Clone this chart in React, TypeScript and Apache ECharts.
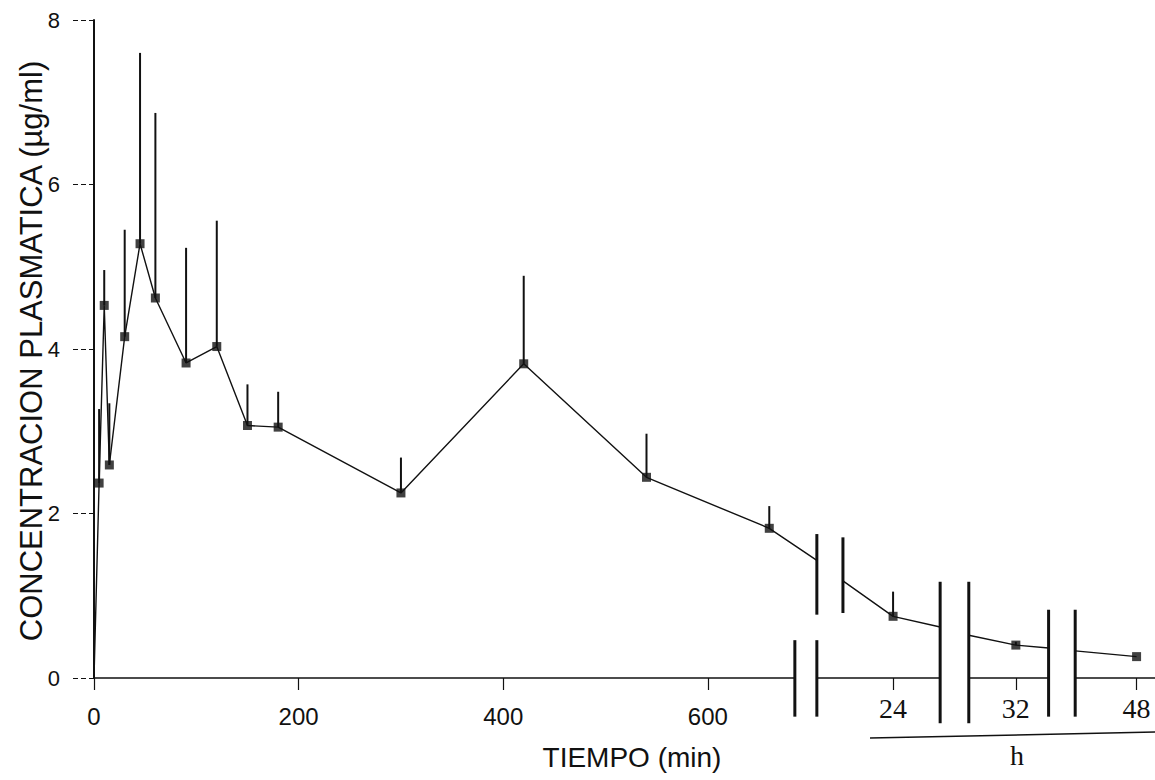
import React, { useEffect, useRef } from "react";
import * as echarts from "echarts";

// ---- data ----
const minuteTimes = [0, 5, 10, 15, 30, 45, 60, 90, 120, 150, 180, 300, 420, 540, 660];
const minuteMeans = [0, 2.37, 4.53, 2.59, 4.15, 5.28, 4.62, 3.83, 4.03, 3.07, 3.05, 2.25, 3.82, 2.44, 1.82];
const minuteSD = [0, 0.9, 0.43, 0.75, 1.3, 2.32, 2.25, 1.4, 1.53, 0.5, 0.43, 0.43, 1.07, 0.53, 0.27];

const hourLabels = ["24", "32", "48"];
const hourAxisPos = [781, 901, 1019]; // position of each hour on the broken axis
const hourMeans = [0.75, 0.4, 0.26];
const hourSD = [0.3, 0.04, 0];

const minuteTickLabels = [0, 200, 400, 600];

// axis breaks (axis units) and where the curve meets them
const breakLeftPos = [706.5, 827, 933];
const breakRightPos = [732, 855, 959];
const lineIntoBreak = [1.43, 0.62, 0.365];
const lineOutOfBreak = [1.18, 0.52, 0.33];
const axisBreakPos = [685, 706.5];

const SANS = '"Liberation Sans", Arial, Helvetica, sans-serif';
const SERIF = '"Liberation Serif", "Times New Roman", serif';

export default function App() {
  const ref = useRef<HTMLDivElement>(null);

  useEffect(() => {
    const chart = echarts.init(ref.current as HTMLDivElement, null, { renderer: "svg" });

    // line segments separated by the breaks
    const segments: number[][][] = [];
    let cur: number[][] = minuteTimes.map((t, i) => [t, minuteMeans[i]]);
    for (let i = 0; i < hourAxisPos.length; i++) {
      cur.push([breakLeftPos[i], lineIntoBreak[i]]);
      segments.push(cur);
      cur = [[breakRightPos[i], lineOutOfBreak[i]], [hourAxisPos[i], hourMeans[i]]];
    }
    segments.push(cur);

    const points = [
      ...minuteTimes.map((t, i) => [t, minuteMeans[i]]).filter((p) => p[1] > 0),
      ...hourAxisPos.map((p, i) => [p, hourMeans[i]]),
    ];
    const errData = [
      ...minuteTimes.map((t, i) => [t, minuteMeans[i], minuteSD[i]]),
      ...hourAxisPos.map((p, i) => [p, hourMeans[i], hourSD[i]]),
    ];

    const allTicks = [...minuteTickLabels, ...hourAxisPos];

    const option: any = {
      animation: false,
      backgroundColor: "#ffffff",
      grid: { left: 94, top: 20, right: 0, bottom: 102, containLabel: false },
      xAxis: {
        type: "value",
        min: 0,
        max: 1037,
        splitLine: { show: false },
        axisLine: { show: true, onZero: false, lineStyle: { color: "#111", width: 1.5 } },
        axisTick: {
          show: true,
          length: 12,
          customValues: allTicks,
          lineStyle: { color: "#111", width: 1.2 },
        },
        axisLabel: {
          customValues: minuteTickLabels,
          margin: 26,
          color: "#111",
          fontFamily: SANS,
          fontSize: 24,
          showMinLabel: true,
          showMaxLabel: true,
        },
      },
      yAxis: {
        type: "value",
        min: 0,
        max: 8,
        interval: 2,
        splitLine: { show: false },
        axisLine: { show: true, lineStyle: { color: "#111", width: 2 } },
        axisTick: { show: true, length: 22, lineStyle: { color: "#111", width: 1.2, type: [5, 3] } },
        axisLabel: { margin: 34, color: "#111", fontFamily: SANS, fontSize: 22 },
      },
      series: [
        ...segments.map((seg) => ({
          type: "line",
          data: seg,
          symbol: "none",
          lineStyle: { color: "#111", width: 1.4 },
          z: 2,
        })),
        {
          type: "custom",
          data: errData,
          encode: { x: 0, y: 1 },
          z: 3,
          renderItem: (params: any, api: any) => {
            const x = api.value(0);
            const m = api.value(1);
            const s = api.value(2);
            if (!(s > 0)) return null;
            const p0 = api.coord([x, m]);
            const p1 = api.coord([x, m + s]);
            return {
              type: "line",
              shape: { x1: p0[0], y1: p0[1], x2: p1[0], y2: p1[1] },
              style: { stroke: "#111", lineWidth: 2 },
            };
          },
        },
        {
          type: "scatter",
          data: points,
          symbol: "rect",
          symbolSize: 9,
          itemStyle: { color: "#111" },
          z: 4,
        },
      ],
    };

    chart.setOption(option);

    const px = (u: number, v: number) => chart.convertToPixel({ gridIndex: 0 }, [u, v]) as number[];
    const graphics: any[] = [];

    const y0 = px(0, 0)[1];
    // gaps in the x axis line
    const gaps = [[axisBreakPos[0], axisBreakPos[1]], [breakLeftPos[1], breakRightPos[1]], [breakLeftPos[2], breakRightPos[2]]];
    gaps.forEach(([a, b]) => {
      const xa = px(a, 0)[0];
      const xb = px(b, 0)[0];
      graphics.push({ type: "rect", shape: { x: xa, y: y0 - 3, width: xb - xa, height: 6 }, style: { fill: "#fff" }, z: 50 });
    });

    const bar = (u: number, v1: number, v2: number) => {
      const a = px(u, v1);
      const b = px(u, v2);
      graphics.push({
        type: "line",
        shape: { x1: a[0], y1: a[1], x2: b[0], y2: b[1] },
        style: { stroke: "#111", lineWidth: 3 },
        z: 60,
      });
    };
    // axis break marks
    bar(axisBreakPos[0], -0.47, 0.46);
    bar(axisBreakPos[1], -0.47, 0.46);
    // curve break marks
    bar(breakLeftPos[0], 0.77, 1.75);
    bar(breakRightPos[0], 0.79, 1.71);
    bar(breakLeftPos[1], -0.55, 1.17);
    bar(breakRightPos[1], -0.55, 1.17);
    bar(breakLeftPos[2], -0.47, 0.83);
    bar(breakRightPos[2], -0.47, 0.83);

    // hour tick labels
    hourAxisPos.forEach((p, i) => {
      const q = px(p, 0);
      graphics.push({
        type: "text",
        x: q[0],
        y: q[1] + 30,
        style: {
          text: hourLabels[i],
          font: `28px ${SERIF}`,
          fill: "#111",
          align: "center",
          verticalAlign: "middle",
          textAlign: "center",
          textVerticalAlign: "middle",
        },
        z: 60,
      });
    });

    // "h" underline and label
    graphics.push({
      type: "line",
      shape: { x1: 870, y1: 738, x2: 1155, y2: 732 },
      style: { stroke: "#111", lineWidth: 1.5 },
    });
    graphics.push({
      type: "text",
      x: 1017,
      y: 755,
      style: {
        text: "h",
        font: `28px ${SERIF}`,
        fill: "#111",
        align: "center",
        verticalAlign: "middle",
        textAlign: "center",
        textVerticalAlign: "middle",
      },
    });

    // axis titles
    graphics.push({
      type: "text",
      x: 632,
      y: 757,
      style: {
        text: "TIEMPO (min)",
        font: `28px ${SANS}`,
        fill: "#111",
        align: "center",
        verticalAlign: "middle",
        textAlign: "center",
        textVerticalAlign: "middle",
      },
    });
    graphics.push({
      type: "text",
      x: 31,
      y: 351,
      rotation: Math.PI / 2,
      style: {
        text: "CONCENTRACION PLASMATICA (µg/ml)",
        font: `31px ${SANS}`,
        fill: "#111",
        align: "center",
        verticalAlign: "middle",
        textAlign: "center",
        textVerticalAlign: "middle",
      },
    });

    chart.setOption({ graphic: graphics });

    return () => chart.dispose();
  }, []);

  return (
    <div
      ref={ref}
      style={{ position: "absolute", left: 0, top: 0, width: 1155, height: 780, background: "#fff" }}
    />
  );
}
